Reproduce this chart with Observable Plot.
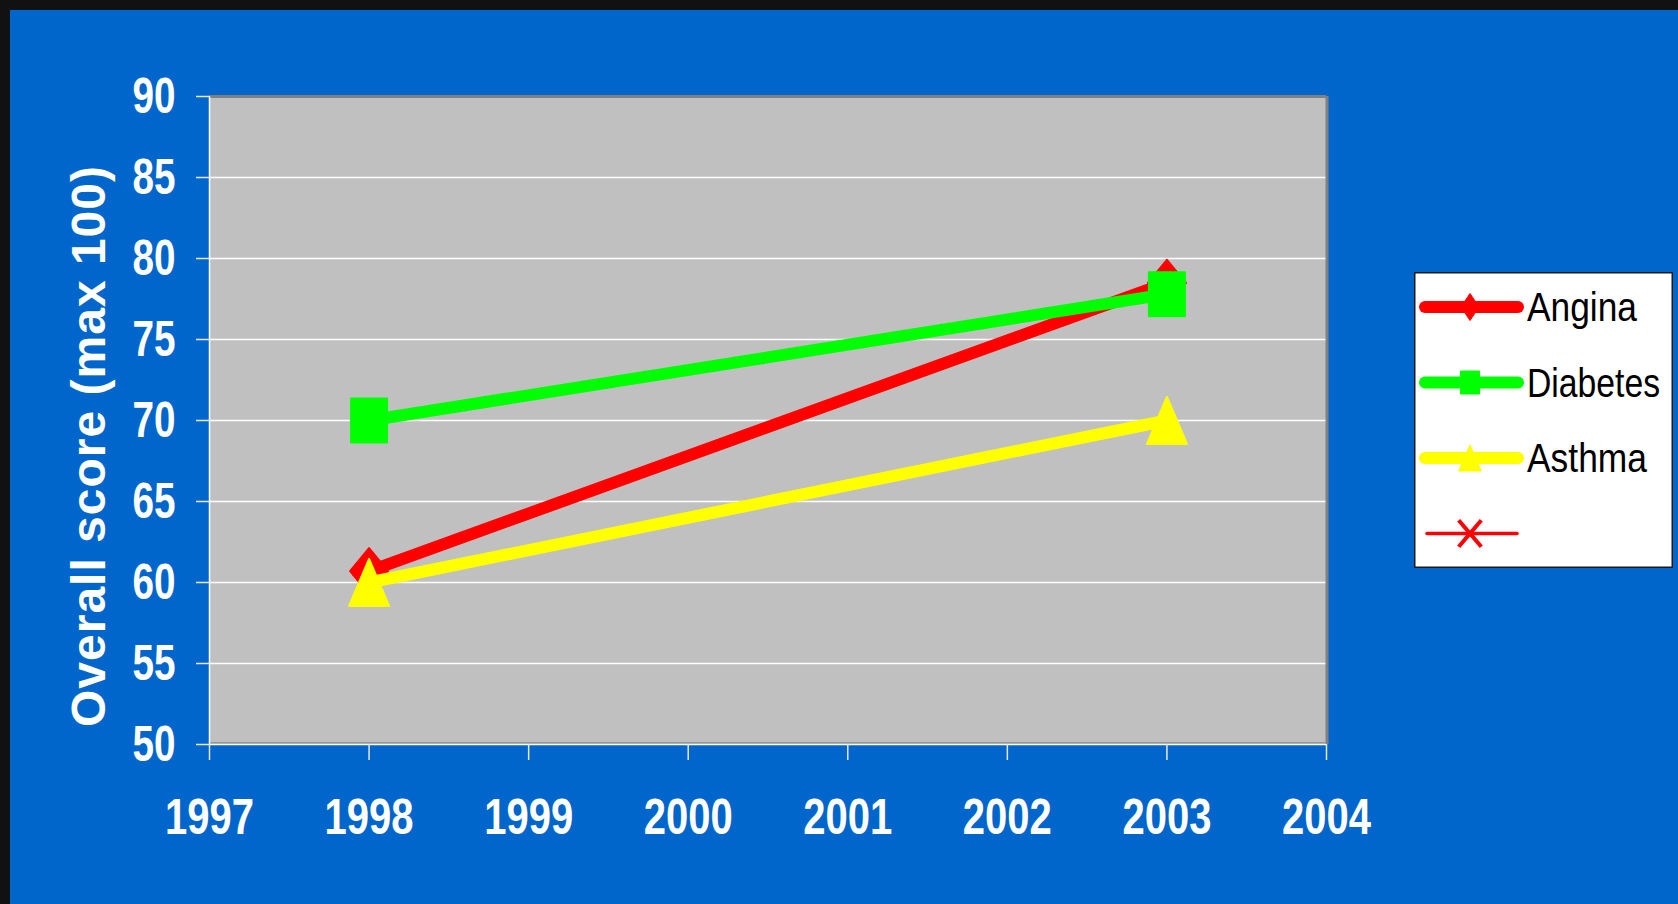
<!DOCTYPE html>
<html><head><meta charset="utf-8">
<script src="https://cdn.jsdelivr.net/npm/d3@7"></script>
<script src="https://cdn.jsdelivr.net/npm/@observablehq/plot@0.6"></script>
<style>
html,body{margin:0;padding:0;background:#111111;width:1678px;height:904px;overflow:hidden;}
#wrap{position:absolute;left:10px;top:10px;width:1668px;height:894px;background:#0066CC;}
#chart{position:absolute;left:0;top:0;}
#legend{position:absolute;left:1404px;top:262px;overflow:visible;}
</style></head><body>
<div id="wrap"><div id="chart"></div><svg id="legend" width="259" height="296"></svg></div>
<script>
// ---- data ----
const years = [1998, 2003];
const angina = [60.7, 78.5];
const diabetes = [70, 77.8];
const asthma = [60, 70];
const seriesNames = ["Angina", "Diabetes", "Asthma", ""];
const seriesColors = ["#FF0000", "#00FF00", "#FFFF00", "#FF0000"];
const xTicks = [1997, 1998, 1999, 2000, 2001, 2002, 2003, 2004];
const yTicks = [50, 55, 60, 65, 70, 75, 80, 85, 90];
const yTitle = "Overall score (max 100)";

const FONT = "'Liberation Sans Narrow','Arial Narrow','Liberation Sans',Arial,sans-serif";

// ---- marker shapes ----
const makeDiamond = (hw, hh) => ({draw(c){c.moveTo(0,-hh);c.lineTo(hw,0);c.lineTo(0,hh);c.lineTo(-hw,0);c.closePath();}});
const makeSquare = (hw, hh) => ({draw(c){c.moveTo(-hw,-hh);c.lineTo(hw,-hh);c.lineTo(hw,hh);c.lineTo(-hw,hh);c.closePath();}});
const makeTriangle = (hw, hh) => ({draw(c){c.moveTo(0,-hh);c.lineTo(hw,hh);c.lineTo(-hw,hh);c.closePath();}});
const makeX = (hw, hh) => ({draw(c){c.moveTo(-hw,-hh);c.lineTo(hw,hh);c.moveTo(hw,-hh);c.lineTo(-hw,hh);}});

const plotSymbols = [makeDiamond(19, 23), makeSquare(18, 22), makeTriangle(20, 23.5)];
const legendSymbols = [makeDiamond(9, 13.5), makeSquare(9.5, 11.5), makeTriangle(11.3, 13), makeX(11.3, 13.3)];

const seriesValues = [angina, diabetes, asthma];
const tables = seriesValues.map((vals, i) =>
  years.map((yr, j) => ({series: seriesNames[i], year: yr, value: vals[j]})));

const seriesMarks = tables.flatMap((t, i) => [
  Plot.line(t, {x: "year", y: "value", stroke: seriesColors[i], strokeWidth: 12, strokeLinecap: "round"}),
  Plot.dot(t, {x: "year", y: "value", symbol: plotSymbols[i], fill: seriesColors[i],
    stroke: seriesColors[i], strokeWidth: 2, strokeLinejoin: "round"})
]);

const svg = Plot.plot({
  width: 1668,
  height: 894,
  marginLeft: 199,
  marginRight: 352,
  marginTop: 86,
  marginBottom: 160,
  style: {background: "transparent", color: "white", fontFamily: FONT, overflow: "visible"},
  x: {domain: [1997, 2004], label: null},
  y: {domain: [50, 90], label: null},
  marks: [
    Plot.frame({fill: "#C0C0C0", stroke: null}),
    Plot.ruleY(yTicks.slice(1, -1), {stroke: "white", strokeWidth: 1.6}),
    Plot.ruleY([90], {stroke: "#808080", strokeWidth: 3}),
    Plot.ruleX([2004], {stroke: "#808080", strokeWidth: 3, dx: 0.5}),
    Plot.ruleY([50], {stroke: "#8a8a8a", strokeWidth: 1.5, dy: -1.5}),
    Plot.ruleY([50], {stroke: "white", strokeWidth: 1.5}),
    Plot.ruleX([1997], {stroke: "white", strokeWidth: 1.5}),
    Plot.axisY({ticks: yTicks, label: null, tickSize: 13, tickPadding: 21, tickFormat: d => String(d),
      fontSize: 50, fontWeight: "bold", fill: "white", stroke: "#e8e8e8", strokeWidth: 1.5}),
    Plot.axisX({ticks: xTicks, label: null, tickSize: 16, tickPadding: 38, tickFormat: d => String(d),
      fontSize: 50, fontWeight: "bold", fill: "white", stroke: "#e8e8e8", strokeWidth: 1.5}),
    Plot.text([yTitle], {frameAnchor: "left", textAnchor: "middle", rotate: -90, dx: -120, dy: 26, fill: "white",
      fontSize: 48, fontWeight: "bold", className: "ytitle"}),
    ...seriesMarks
  ]
});

const s = d3.select(svg);
s.selectAll('g[aria-label="x-axis tick label"] text')
  .style("font-size", "50px").style("font-weight", "bold")
  .attr("textLength", 89).attr("lengthAdjust", "spacingAndGlyphs");
s.selectAll('g[aria-label="y-axis tick label"] text')
  .style("font-size", "50px").style("font-weight", "bold")
  .attr("textLength", 43).attr("lengthAdjust", "spacingAndGlyphs");
s.selectAll('.ytitle text')
  .attr("textLength", 561).attr("lengthAdjust", "spacing");
document.getElementById("chart").appendChild(svg);

// ---- legend ----
const legendTextLen = [110, 133, 120, 0];
const leg = d3.select("#legend");
leg.append("rect").attr("x", 0.75).attr("y", 0.75).attr("width", 257.5).attr("height", 294.5)
  .attr("fill", "white").attr("stroke", "#1a1a1a").attr("stroke-width", 1.5);
seriesNames.forEach((name, i) => {
  const cy = 35 + i * 75.5;
  const g = leg.append("g");
  const thin = name === "";
  g.append("line").attr("x1", thin ? 13 : 11).attr("x2", thin ? 103 : 104).attr("y1", cy).attr("y2", cy)
    .attr("stroke", seriesColors[i]).attr("stroke-width", thin ? 3.5 : 12).attr("stroke-linecap", "round");
  const p = d3.path();
  legendSymbols[i].draw(p);
  g.append("path").attr("d", p.toString()).attr("transform", `translate(56,${cy})`)
    .attr("fill", thin ? "none" : seriesColors[i]).attr("stroke", seriesColors[i])
    .attr("stroke-width", thin ? 4 : 1).attr("stroke-linejoin", "round");
  if (name) {
    g.append("text").attr("x", 113).attr("y", cy + 14).text(name)
      .attr("font-family", FONT).attr("font-size", 41).attr("fill", "black")
      .attr("textLength", legendTextLen[i]).attr("lengthAdjust", "spacingAndGlyphs");
  }
});
</script>
</body></html>
